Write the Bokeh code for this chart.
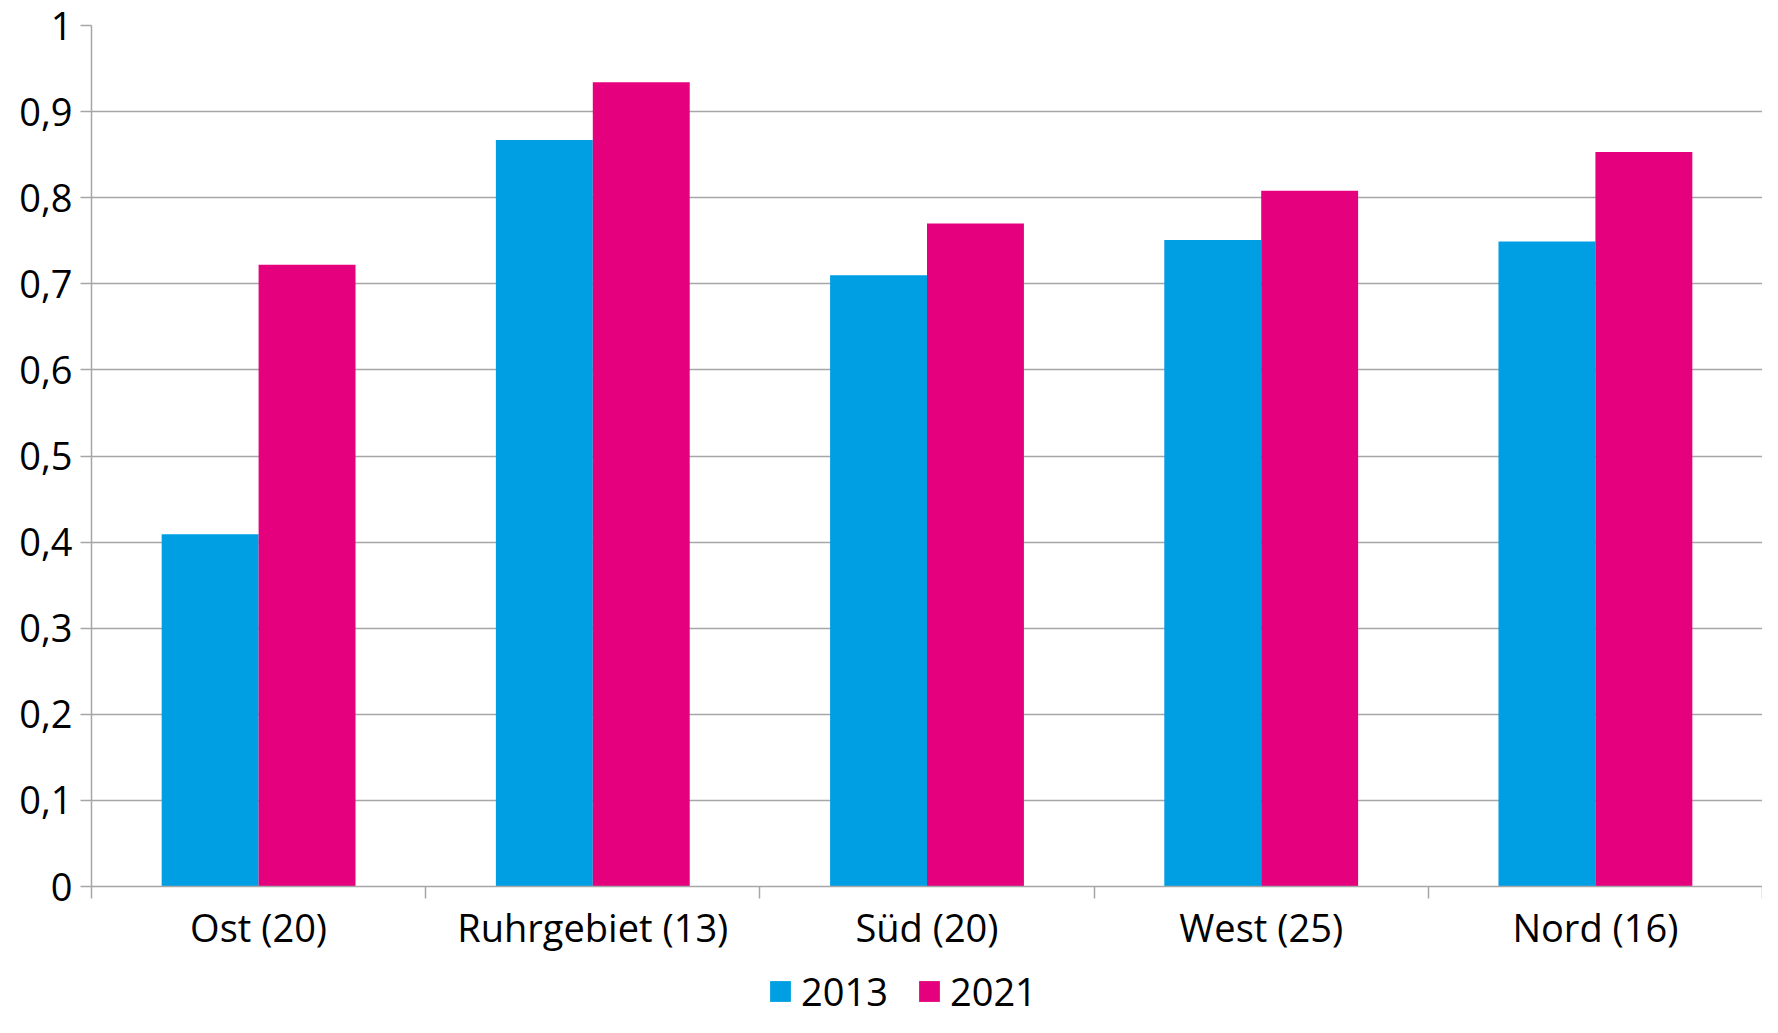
from bokeh.plotting import figure
from bokeh.layouts import column
from bokeh.models import (ColumnDataSource, Range1d, FixedTicker, Legend, LegendItem)
from bokeh.transform import dodge
from bokeh.embed import file_html
from bokeh.resources import INLINE

categories = ["Ost (20)", "Ruhrgebiet (13)", "Süd (20)", "West (25)", "Nord (16)"]
series_names = ["2013", "2021"]
values_2013 = [0.409, 0.867, 0.710, 0.751, 0.749]
values_2021 = [0.722, 0.934, 0.770, 0.808, 0.853]
y_ticks = [0, 0.1, 0.2, 0.3, 0.4, 0.5, 0.6, 0.7, 0.8, 0.9, 1]
y_tick_labels = ["0", "0,1", "0,2", "0,3", "0,4", "0,5", "0,6", "0,7", "0,8", "0,9", "1"]

FONT = "Open Sans"
GRID = "#A6A6A6"
BLUE = "#009FE3"
PINK = "#E5007D"
FS = "38px"

pos = [i + 0.5 for i in range(len(categories))]
src = ColumnDataSource(dict(x=pos, v13=values_2013, v21=values_2021))

p = figure(width=1762, height=955, output_backend="svg", toolbar_location=None,
           x_range=Range1d(0, len(categories)), y_range=Range1d(0, 1),
           min_border_left=91, min_border_right=0, min_border_top=25, min_border_bottom=65)
p.outline_line_color = None
p.background_fill_color = "white"
p.border_fill_color = "white"

r13 = p.vbar(x=dodge("x", -0.145, range=p.x_range), top="v13", width=0.29, source=src,
             fill_color=BLUE, line_color=None)
r21 = p.vbar(x=dodge("x", 0.145, range=p.x_range), top="v21", width=0.29, source=src,
             fill_color=PINK, line_color=None)

# y axis
p.yaxis.ticker = FixedTicker(ticks=y_ticks)
p.yaxis.major_label_overrides = {t: l for t, l in zip(y_ticks, y_tick_labels)}
p.yaxis.major_label_text_font = FONT
p.yaxis.major_label_text_font_size = FS
p.yaxis.major_label_text_color = "black"
p.yaxis.axis_line_color = GRID
p.yaxis.axis_line_width = 1.5
p.yaxis.major_tick_line_color = GRID
p.yaxis.major_tick_line_width = 1.5
p.yaxis.major_tick_out = 11
p.yaxis.major_tick_in = 0
p.yaxis.minor_tick_line_color = None
p.yaxis.major_label_standoff = 8

# x axis
p.xaxis.ticker = FixedTicker(ticks=pos, minor_ticks=list(range(len(categories) + 1)))
p.xaxis.major_label_overrides = {x: c for x, c in zip(pos, categories)}
p.xaxis.major_label_text_font = FONT
p.xaxis.major_label_text_font_size = FS
p.xaxis.major_label_text_color = "black"
p.xaxis.axis_line_color = GRID
p.xaxis.axis_line_width = 1.5
p.xaxis.major_tick_line_color = None
p.xaxis.minor_tick_line_color = GRID
p.xaxis.minor_tick_line_width = 1.5
p.xaxis.minor_tick_out = 12
p.xaxis.minor_tick_in = 0
p.xaxis.major_label_standoff = 2

p.xgrid.grid_line_color = None
p.ygrid.ticker = FixedTicker(ticks=y_ticks)
p.ygrid.grid_line_color = GRID
p.ygrid.grid_line_width = 1.5

# legend in a small strip below the chart
lg = figure(width=1762, height=62, output_backend="svg", toolbar_location=None,
            x_range=Range1d(0, 1), y_range=Range1d(0, 1),
            x_axis_location=None, y_axis_location=None, min_border=0)
lg.outline_line_color = None
lg.xgrid.grid_line_color = None
lg.ygrid.grid_line_color = None
l13 = lg.vbar(x=[0], top=[0], width=0.1, fill_color=BLUE, line_color=None)
l21 = lg.vbar(x=[0], top=[0], width=0.1, fill_color=PINK, line_color=None)
legend = Legend(items=[LegendItem(label=series_names[0], renderers=[l13]),
                       LegendItem(label=series_names[1], renderers=[l21])],
                orientation="horizontal", location=(676, 0),
                label_text_font=FONT, label_text_font_size=FS, label_text_color="black",
                glyph_width=26, glyph_height=26, label_standoff=8, spacing=28,
                border_line_color=None, background_fill_alpha=0,
                margin=0, padding=4)
lg.add_layout(legend, "center")

layout = column(p, lg, spacing=0)
open("out.html", "w").write(file_html(layout, INLINE))
